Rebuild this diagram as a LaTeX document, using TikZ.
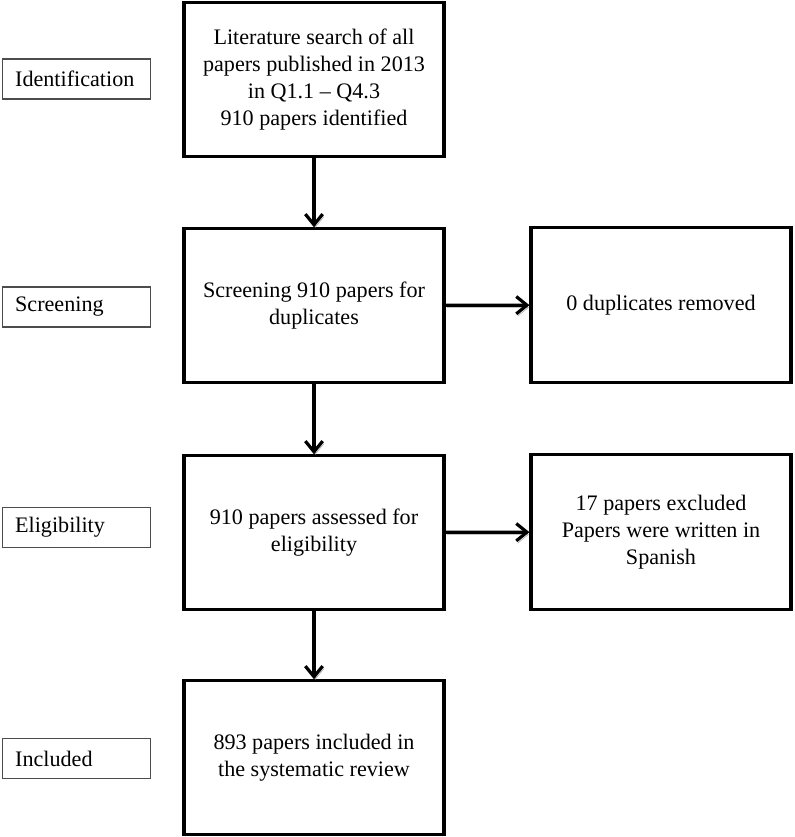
\documentclass[tikz,border=0pt]{standalone}
\usepackage{fontspec}
\setmainfont{Liberation Serif}
\usetikzlibrary{arrows.meta,shadows}

\begin{document}
\begin{tikzpicture}[x=0.75pt,y=-0.75pt,
        every node/.style={font=\fontsize{16.6}{20.3}\selectfont, align=center},
        mainbox/.style={draw, line width=2.3pt, minimum width=195pt,
          minimum height=#1, fill=white,
          drop shadow={shadow xshift=1.6pt, shadow yshift=-1.6pt,
            fill=black!45, opacity=0.7}},
        mainbox/.default=115pt,
        stagebox/.style={draw=black!70, line width=0.8pt, minimum width=111pt,
          minimum height=30pt, inner xsep=9.5pt, text width=92pt, align=left},
        flowarrow/.style={line width=2.4pt, -{Straight Barb[length=8pt,width=13pt]},
          preaction={draw=black!35, transform canvas={xshift=1pt,yshift=-1.8pt}}}]
      \useasboundingbox (0,0) rectangle (794,837);
      \node[mainbox,name=search] at (314,79.5) {Literature search of all\\papers published in 2013\\in Q1.1 -- Q4.3\\910 papers identified};
      \node[mainbox,name=screen] at (314,305.5) {Screening 910 papers for\\duplicates};
      \node[mainbox,name=assess] at (314,532.5) {910 papers assessed for\\eligibility};
      \node[mainbox,name=incl] at (314,757.5) {893 papers included in\\the systematic review};
      \node[mainbox=116pt,name=dup] at (661,305) {0 duplicates removed};
      \node[mainbox=116pt,name=excl] at (661,532) {17 papers excluded\\Papers were written in\\Spanish};
      \node[stagebox,name=sIdent] at (76.5,79) {Identification};
      \node[stagebox,name=sScreen] at (76.5,307) {Screening};
      \node[stagebox,name=sElig] at (76.5,527.5) {Eligibility};
      \node[stagebox,name=sIncl] at (76.5,758.5) {Included};
      \draw[flowarrow] (search) -- (screen);
      \draw[flowarrow] (screen) -- (assess);
      \draw[flowarrow] (assess) -- (incl);
      \draw[flowarrow] (screen) -- (dup);
      \draw[flowarrow] (assess) -- (excl);
    \end{tikzpicture}
\end{document}
